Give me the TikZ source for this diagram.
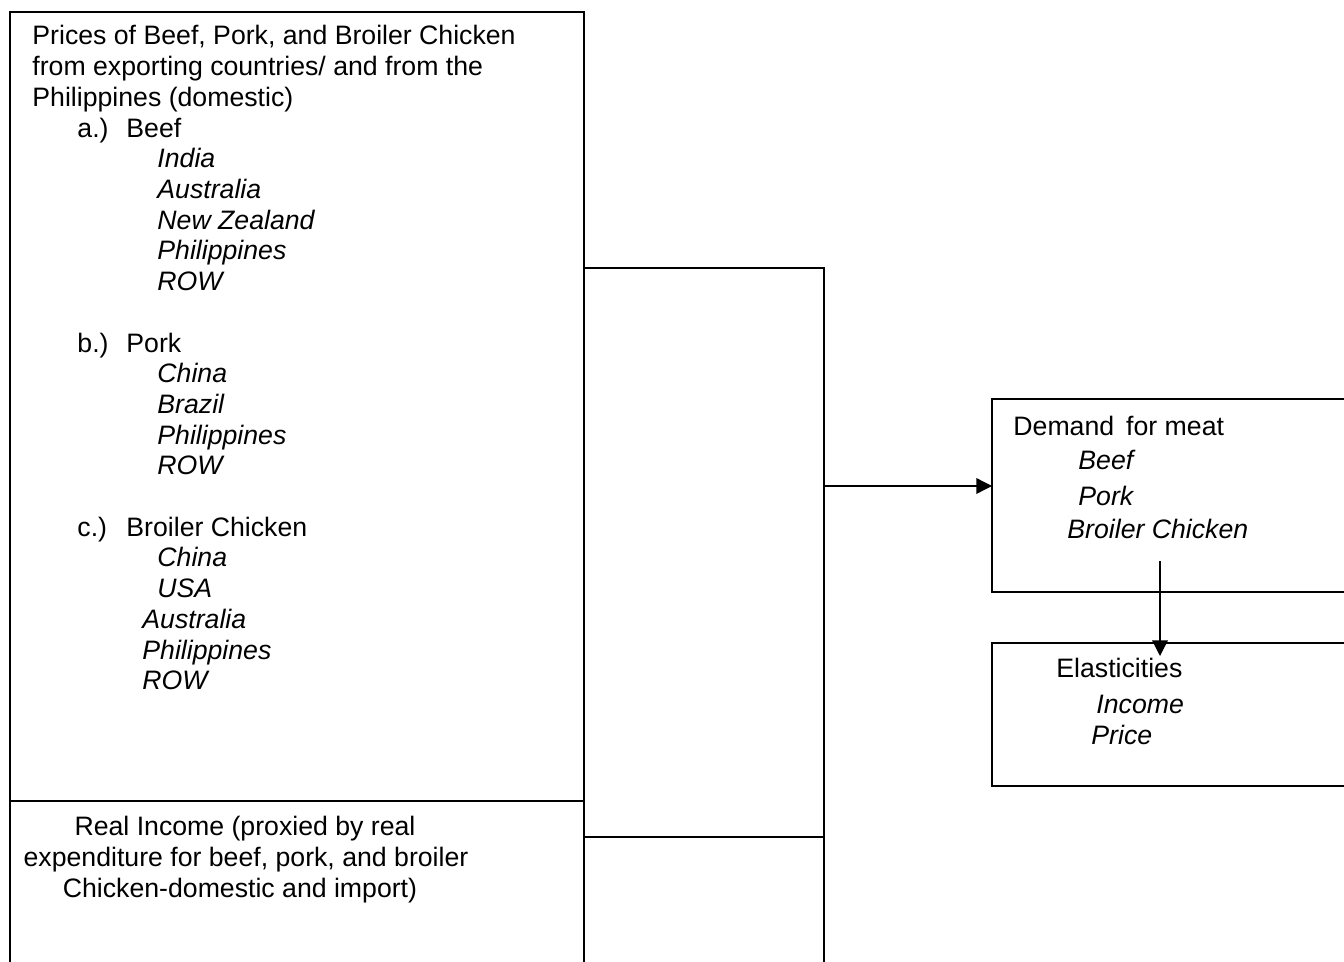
\documentclass[tikz,border=0pt]{standalone}
\usepackage{fontspec}
\setmainfont{Liberation Sans}
\usetikzlibrary{arrows.meta}
\newcommand{\boxfont}{\fontsize{12}{13.8}\selectfont}
\tikzset{
  box/.style={draw,line width=0.6pt,inner sep=0pt,outer sep=0pt,anchor=north west},
  txt/.style={anchor=base west,inner sep=0pt,font=\boxfont},
  itxt/.style={txt,font=\boxfont\itshape},
  ctxt/.style={anchor=base,inner sep=0pt,font=\boxfont},
  wire/.style={line width=0.6pt},
  tip/.style={-{Triangle[length=7pt,width=7pt]}}
}
\begin{document}
\begin{tikzpicture}[x=0.45pt,y=-0.45pt]
\useasboundingbox (0,0) rectangle (1344,962);
% boxes (right ones run off the page)
\node[box,minimum width=258.3pt,minimum height=355.05pt] (prices) at (10,12) {};
\node[box,minimum width=258.3pt,minimum height=100pt] (income) at (10,801) {};
\node[box,minimum width=190pt,minimum height=86.85pt] (demand) at (992,399) {};
\node[box,minimum width=190pt,minimum height=64.35pt] (elastic) at (992,643) {};
% prices box text
\node[txt] (p0) at (32,45) {Prices of Beef, Pork, and Broiler Chicken};
\node[txt] (p1) at (32,75.7) {from exporting countries/ and from the};
\node[txt] (p2) at (32,106.4) {Philippines (domestic)};
\foreach \k/\l/\t in {3/a.)/Beef,10/b.)/Pork,16/c.)/Broiler Chicken} {
  \node[txt] (l\k) at (77,{45+30.7*\k}) {\l};
  \node[txt] (h\k) at (126,{45+30.7*\k}) {\t};
}
\foreach \k/\x/\t in {4/157/India,5/157/Australia,6/157/New Zealand,7/157/Philippines,8/157/ROW,11/157/China,12/157/Brazil,13/157/Philippines,14/157/ROW,17/157/China,18/157/USA,19/142/Australia,20/142/Philippines,21/142/ROW}
  \node[itxt] (it\k) at (\x,{45+30.7*\k}) {\t};
% income box text
\node[ctxt] (i0) at (245,835) {Real Income (proxied by real};
\node[ctxt] (i1) at (246,866) {expenditure for beef, pork, and broiler};
\node[ctxt] (i2) at (240,897) {Chicken-domestic and import)};
% right boxes text
\node[txt] (d0) at (1013,435) {Demand\hspace{0.45em}for meat};
\node[itxt] (d1) at (1078,469) {Beef};
\node[itxt] (d2) at (1078,505) {Pork};
\node[itxt] (d3) at (1067,538) {Broiler Chicken};
\node[txt] (e0) at (1056,677) {Elasticities};
\node[itxt] (e1) at (1096,713) {Income};
\node[itxt] (e2) at (1091,744) {Price};
% connectors
\coordinate (bustop) at (824,268);
\coordinate (busend) at (824,1000);
\coordinate (incjoin) at (824,837);
\coordinate (demin) at (824,486);
\coordinate (elasup) at (1160,561);
\coordinate (elastip) at (1160,656);
\draw[wire] (prices.east |- bustop) -- (bustop) -- (busend);
\draw[wire] (income.east |- incjoin) -- (incjoin);
\draw[wire,tip] (demin) -- (demin -| demand.west);
\draw[wire,tip] (elasup) -- (elastip);
\end{tikzpicture}
\end{document}
